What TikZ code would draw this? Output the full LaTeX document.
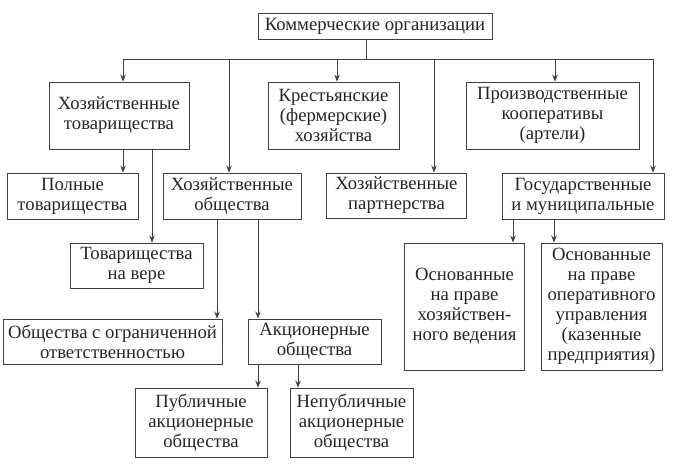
\documentclass[tikz,border=0pt]{standalone}
\usepackage{fontspec}
\setmainfont{Liberation Serif}
\usetikzlibrary{arrows.meta}
\begin{document}
\begin{tikzpicture}[x=1pt,y=-1pt,
  box/.style={draw=black!75,line width=0.9pt,inner sep=0pt,align=center,
    font=\fontsize{18.7}{20}\selectfont,text=black!85},
  arr/.style={draw=black!75,line width=0.9pt,-{Stealth[length=7pt,width=5.5pt]}},
  ln/.style={draw=black!75,line width=0.9pt}]
\useasboundingbox (0,0) rectangle (700,465);
\node[box,minimum width=234pt,minimum height=26pt] (top) at (375,26) {Коммерческие организации};
\node[box,minimum width=140pt,minimum height=67pt] (ht) at (119,115.5) {Хозяйственные\\товарищества};
\node[box,minimum width=131pt,minimum height=67pt] (kf) at (333.5,115.5) {Крестьянские\\(фермерские)\\хозяйства};
\node[box,minimum width=173pt,minimum height=67pt] (pk) at (552.5,115.5) {Производственные\\кооперативы\\(артели)};
\node[box,minimum width=131pt,minimum height=46pt] (pt) at (72.5,196) {Полные\\товарищества};
\node[box,minimum width=138pt,minimum height=46pt] (ho) at (232,196) {Хозяйственные\\общества};
\node[box,minimum width=140pt,minimum height=45pt] (hp) at (396.5,195.5) {Хозяйственные\\партнерства};
\node[box,minimum width=162pt,minimum height=46pt] (gm) at (583,196) {Государственные\\и муниципальные};
\node[box,minimum width=133pt,minimum height=45pt] (tv) at (136.5,265.5) {Товарищества\\на вере};
\node[box,minimum width=219pt,minimum height=45pt] (oo) at (112.5,341.5) {Общества с ограниченной\\ответственностью};
\node[box,minimum width=133pt,minimum height=45pt] (ao) at (314.5,341.5) {Акционерные\\общества};
\node[box,minimum width=132pt,minimum height=69pt] (pub) at (201,422.5) {Публичные\\акционерные\\общества};
\node[box,minimum width=123pt,minimum height=69pt] (npub) at (351.5,422.5) {Непубличные\\акционерные\\общества};
\node[box,minimum width=120pt,minimum height=127pt] (ohv) at (464.5,306.5) {Основанные\\на праве\\хозяйствен-\\ного ведения};
\node[box,minimum width=121pt,minimum height=127pt] (oou) at (601.5,306.5) {Основанные\\на праве\\оперативного\\управления\\(казенные\\предприятия)};
% bus
\coordinate (s0) at (366,59);
\coordinate (b1) at (123,59);
\coordinate (b2) at (229,59);
\coordinate (b3) at (337,59);
\coordinate (b4) at (434,59);
\coordinate (b5) at (555,59);
\coordinate (b6) at (653,59);
\draw[ln] (s0 |- top.south) -- (s0);
\draw[ln] (b1) -- (b6);
\draw[arr] (b1) -- (b1 |- ht.north);
\draw[arr] (b2) -- (b2 |- ho.north);
\draw[arr] (b3) -- (b3 |- kf.north);
\draw[arr] (b4) -- (b4 |- hp.north);
\draw[arr] (b5) -- (b5 |- pk.north);
\draw[arr] (b6) -- (b6 |- gm.north);
% subtrees
\coordinate (h1) at (123,0);
\coordinate (h2) at (152,0);
\draw[arr] (h1 |- ht.south) -- (h1 |- pt.north);
\draw[arr] (h2 |- ht.south) -- (h2 |- tv.north);
\coordinate (o1) at (217,0);
\coordinate (o2) at (258,0);
\draw[arr] (o1 |- ho.south) -- (o1 |- oo.north);
\draw[arr] (o2 |- ho.south) -- (o2 |- ao.north);
\coordinate (a1) at (258,0);
\coordinate (a2) at (298,0);
\draw[arr] (a1 |- ao.south) -- (a1 |- pub.north);
\draw[arr] (a2 |- ao.south) -- (a2 |- npub.north);
\coordinate (g1) at (513,0);
\coordinate (g2) at (554,0);
\draw[arr] (g1 |- gm.south) -- (g1 |- ohv.north);
\draw[arr] (g2 |- gm.south) -- (g2 |- oou.north);
\end{tikzpicture}
\end{document}
